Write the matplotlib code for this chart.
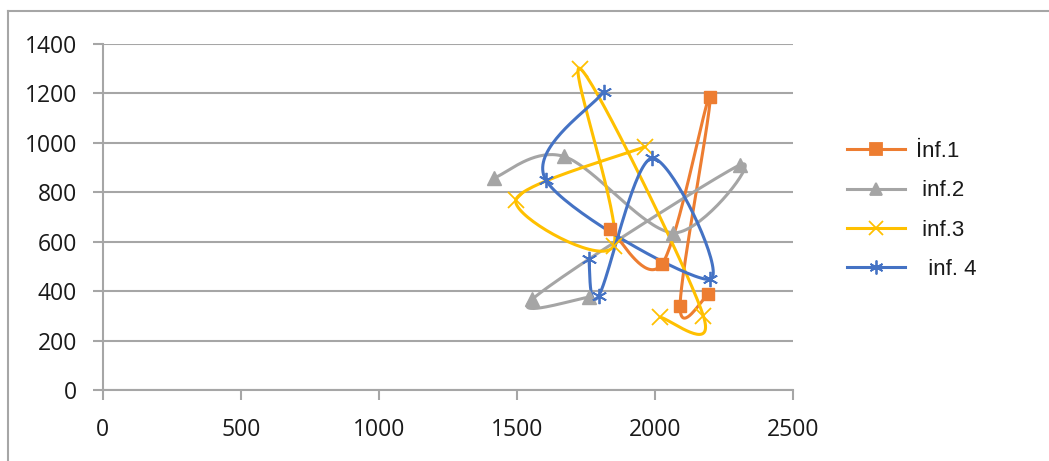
import numpy as np
import matplotlib
matplotlib.use("Agg")
import matplotlib.pyplot as plt
from matplotlib.lines import Line2D

# series data (points in drawing order)
inf1_x = [1839, 2026, 2200, 2092, 2194]
inf1_y = [650, 509, 1186, 341, 388]

inf2_x = [1418, 1671, 2068, 2309, 1557, 1761]
inf2_y = [858, 945, 636, 911, 368, 375]

inf3_x = [2020, 2176, 1731, 1851, 1497, 1966]
inf3_y = [294, 301, 1300, 583, 770, 985]

inf4_x = [1761, 1797, 1990, 2200, 1605, 1815]
inf4_y = [529, 381, 938, 448, 851, 1207]

labels = ["İnf.1", " inf.2", " inf.3", "  inf. 4"]
x_ticks = [0, 500, 1000, 1500, 2000, 2500]
y_ticks = [0, 200, 400, 600, 800, 1000, 1200, 1400]

colors = ["#ED7D31", "#A5A5A5", "#FFC000", "#4472C4"]
markers = ["s", "^", "x", (6, 2, 0)]


def smooth(ax, xs, ys, n=40):
    # excel-like smoothed line: catmull-rom bezier, computed in screen space
    pts = ax.transData.transform(np.column_stack([xs, ys]))
    p = np.vstack([pts[0], pts, pts[-1]])
    out = []
    for i in range(1, len(p) - 2):
        p0, p1, p2, p3 = p[i - 1], p[i], p[i + 1], p[i + 2]
        c1 = p1 + (p2 - p0) / 6.0
        c2 = p2 - (p3 - p1) / 6.0
        t = np.linspace(0, 1, n)[:, None]
        seg = ((1 - t) ** 3) * p1 + 3 * ((1 - t) ** 2) * t * c1 + 3 * (1 - t) * t ** 2 * c2 + t ** 3 * p2
        out.append(seg if i == 1 else seg[1:])
    out = np.vstack(out)
    return ax.transData.inverted().transform(out)


plt.rcParams["font.family"] = ["Open Sans", "DejaVu Sans"]

fig = plt.figure(figsize=(10.49, 4.61), dpi=100)
ax = fig.add_axes([102.7 / 1049, 1 - 390 / 461, (792.7 - 102.7) / 1049, (390 - 44) / 461])
ax.set_xlim(0, 2500)
ax.set_ylim(0, 1400)

series = [(inf1_x, inf1_y), (inf2_x, inf2_y), (inf3_x, inf3_y), (inf4_x, inf4_y)]
handles = []
for (xs, ys), c, m, lab in zip(series, colors, markers, labels):
    curve = smooth(ax, xs, ys)
    ax.plot(curve[:, 0], curve[:, 1], color=c, lw=2.2, solid_capstyle="round", zorder=3)
    if m == "s":
        ax.plot(xs, ys, ls="none", marker=m, ms=9, color=c, zorder=4)
    elif m == "^":
        ax.plot(xs, ys, ls="none", marker=m, ms=10, color=c, zorder=4)
    else:
        ax.plot(xs, ys, ls="none", marker=m, ms=11, mew=1.3, color=c, zorder=4)
    handles.append(Line2D([0], [0], color=c, lw=2.2, marker=m,
                          ms=8 if m in ("s", "^") else 10, mew=1.3, label=lab))

ax.set_xticks(x_ticks)
ax.set_yticks(y_ticks)
ax.yaxis.grid(True, color="#A6A6A6", lw=1.5)
ax.set_axisbelow(True)
for s in ["top", "right"]:
    ax.spines[s].set_visible(False)
for s in ["left", "bottom"]:
    ax.spines[s].set_color("#A6A6A6")
    ax.spines[s].set_linewidth(1.5)
ax.tick_params(axis="both", colors="#A6A6A6", width=1.5, length=7.5, labelcolor="#1a1a1a",
               labelsize=16.5)
ax.tick_params(axis="x", pad=13)
ax.tick_params(axis="y", pad=11)

leg = fig.legend(handles=handles, loc="upper left", bbox_to_anchor=(836 / 1049, 1 - 130 / 461),
                 frameon=False, handlelength=2.6, labelspacing=0.82,
                 borderpad=0, handletextpad=0.5,
                 prop={"family": ["Liberation Sans", "DejaVu Sans"], "size": 16})
for t in leg.get_texts():
    t.set_color("#1a1a1a")

# chart area border
fig.add_artist(Line2D([8 / 1049, 8 / 1049], [0, 1 - 11 / 461], color="#A6A6A6", lw=1.5,
                      transform=fig.transFigure))
fig.add_artist(Line2D([8 / 1049, 1], [1 - 11 / 461, 1 - 11 / 461], color="#A6A6A6", lw=1.5,
                      transform=fig.transFigure))

fig.savefig("out.png", dpi=100)
